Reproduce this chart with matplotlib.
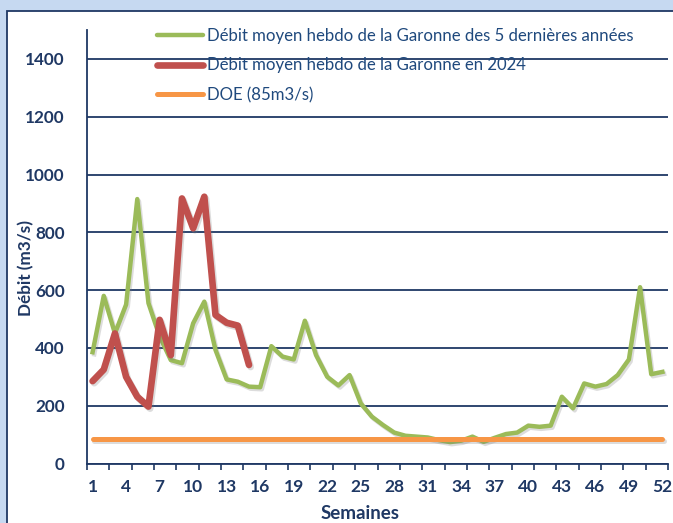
#!/usr/bin/env python3
"""Débit hebdomadaire de la Garonne : 5 dernières années vs 2024 vs DOE."""

import matplotlib as mpl
mpl.use("Agg")
import matplotlib.pyplot as plt
import matplotlib.patheffects as pe
from matplotlib.patches import Rectangle


WEEKS = list(range(1, 53))
DEBIT_5ANS = [
    385, 580, 450, 550, 915, 555, 440, 358, 347, 485,
    560, 393, 291, 283, 266, 264, 406, 370, 360, 494,
    375, 300, 270, 306, 208, 162, 133, 107, 96, 93,
    90, 81, 74, 79, 93, 75, 89, 102, 107, 131,
    127, 131, 231, 191, 277, 266, 275, 306, 360, 610,
    309, 317,
]
WEEKS_2024 = list(range(1, 16))
DEBIT_2024 = [285, 325, 450, 300, 231, 197, 497, 375, 917, 814,
              923, 514, 487, 477, 341]
DOE = 85
TICK_WEEKS = list(range(1, 53, 3))
Y_TICKS = [0, 200, 400, 600, 800, 1000, 1200, 1400]

LABEL_5ANS = "Débit moyen hebdo de la Garonne des 5 dernières années"
LABEL_2024 = "Débit moyen hebdo de la Garonne en 2024"
LABEL_DOE = "DOE (85m3/s)"

NAVY = "#1F3864"
TEXT_BLUE = "#1F497D"
GREEN = "#9BBB59"
RED = "#C0504D"
ORANGE = "#F79646"


def shadow():
    return [pe.SimpleLineShadow(offset=(1.2, -1.5), shadow_color="#777777",
                                alpha=0.25),
            pe.Normal()]


def main():
    plt.rcParams["font.family"] = ["Lato", "DejaVu Sans"]
    W, H = 673, 523
    fig = plt.figure(figsize=(W / 100, H / 100), dpi=100, facecolor="#C6D9F1")

    # white chart panel with navy frame
    fig.patches.append(Rectangle(
        (7 / W, -0.05), 1.1, 1 - 11 / H + 0.05,
        transform=fig.transFigure, facecolor="white",
        edgecolor=NAVY, linewidth=1.3, zorder=-10,
    ))

    ax = fig.add_axes([87 / W, 1 - 463.5 / H, (668 - 87) / W, (463.5 - 30) / H])
    ax.set_facecolor("none")
    ax.set_zorder(5)

    ax.plot(WEEKS, DEBIT_5ANS, color=GREEN, linewidth=3.2,
            solid_joinstyle="round", label=LABEL_5ANS,
            path_effects=shadow(), zorder=3)
    ax.plot(WEEKS_2024, DEBIT_2024, color=RED, linewidth=4.8,
            solid_joinstyle="round", solid_capstyle="round", label=LABEL_2024,
            path_effects=shadow(), zorder=4)
    ax.plot(WEEKS, [DOE] * len(WEEKS), color=ORANGE, linewidth=3.6,
            solid_capstyle="round", label=LABEL_DOE,
            path_effects=shadow(), zorder=5)

    ax.set_xlim(0.5, 52.5)
    ax.set_ylim(0, 1500)
    ax.set_yticks(Y_TICKS)
    ax.set_xticks(TICK_WEEKS)
    ax.set_xticks([0.5 + 2 * k for k in range(27)], minor=True)

    ax.grid(axis="y", color=NAVY, linewidth=1.3, zorder=1)
    ax.set_axisbelow(True)
    for side in ("top", "right"):
        ax.spines[side].set_visible(False)
    for side in ("left", "bottom"):
        ax.spines[side].set_color(NAVY)
        ax.spines[side].set_linewidth(1.3)

    ax.tick_params(axis="y", length=0, pad=16, labelsize=12.3, labelcolor=NAVY)
    ax.tick_params(axis="x", which="major", length=0, pad=11,
                   labelsize=12.5, labelcolor=NAVY)
    ax.tick_params(axis="x", which="minor", length=4, width=1.2,
                   color=NAVY, direction="out")
    for lab in ax.get_xticklabels() + ax.get_yticklabels():
        lab.set_fontweight("bold")

    ax.set_xlabel("Semaines", fontsize=13.5, fontweight="bold",
                  color=NAVY)
    ax.xaxis.set_label_coords(0.47, -0.095)
    ax.set_ylabel("Débit (m3/s)", fontsize=12.3, fontweight="bold",
                  color=NAVY)
    ax.yaxis.set_label_coords(-0.09, 0.45)

    leg = ax.legend(
        loc="upper left",
        bbox_to_anchor=(157 / W, 1 - 28 / H),
        bbox_transform=fig.transFigure,
        frameon=False,
        fontsize=12.1,
        handlelength=2.75,
        handletextpad=0.25,
        labelspacing=0.8,
        borderpad=0,
        borderaxespad=0,
    )
    for txt in leg.get_texts():
        txt.set_color(TEXT_BLUE)
    for line in leg.get_lines():
        line.set_path_effects([])
        line.set_solid_capstyle("round")

    fig.savefig("out.png", dpi=100, facecolor=fig.get_facecolor())
    plt.close(fig)


if __name__ == "__main__":
    main()
